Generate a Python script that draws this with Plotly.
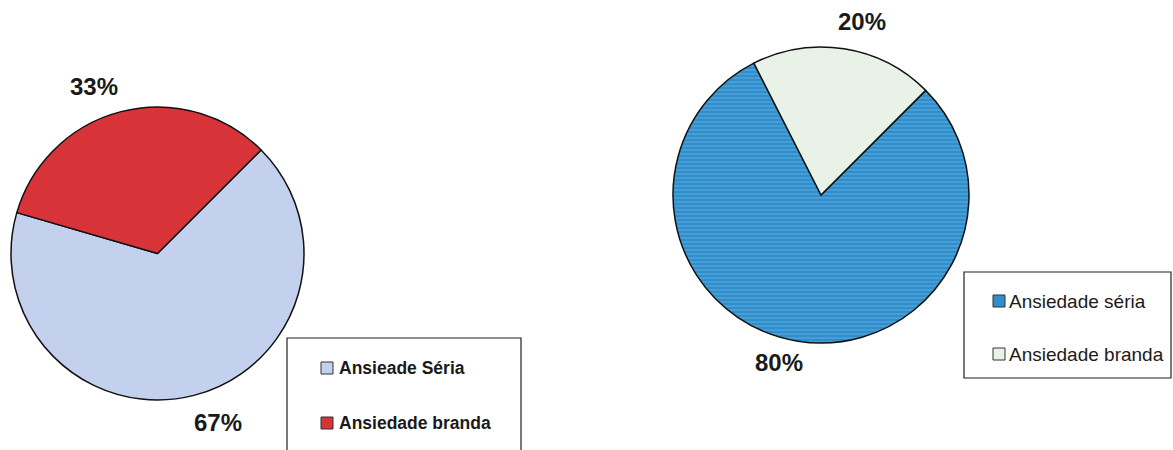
import plotly.graph_objects as go

# Data
left_labels = ["Ansieade Séria", "Ansiedade branda"]
left_values = [67, 33]
left_colors = ["#c4d1ee", "#d9333a"]

right_labels = ["Ansiedade séria", "Ansiedade branda"]
right_values = [80, 20]
right_colors = ["#2f8fcc", "#e8f2e6"]

W, H = 1173, 450


def px(x):
    return x / W


def py(y):
    return 1 - y / H


fig = go.Figure()

fig.add_trace(go.Pie(
    labels=left_labels, values=left_values, sort=False, direction="clockwise",
    rotation=45, textinfo="none", hoverinfo="label+percent",
    marker=dict(colors=left_colors, line=dict(color="#111111", width=1.5)),
    domain=dict(x=[px(11), px(304)], y=[py(400), py(107)]),
    showlegend=False,
))

fig.add_trace(go.Pie(
    labels=right_labels, values=right_values, sort=False, direction="clockwise",
    rotation=45, textinfo="none", hoverinfo="label+percent",
    marker=dict(colors=right_colors, line=dict(color="#111111", width=1.5),
                pattern=dict(shape=["-", ""], bgcolor=right_colors,
                             fgcolor=["#6fb2e2", right_colors[1]],
                             size=4, solidity=0.2)),
    domain=dict(x=[px(673), px(969)], y=[py(343), py(47)]),
    showlegend=False,
))


def pct(values, i):
    return f"{round(100 * values[i] / sum(values))}%"


pct_font = dict(family="Liberation Sans, Arial, sans-serif", size=24, color="#1a1a1a")
annotations = [
    dict(x=px(94), y=py(86), text=f"<b>{pct(left_values, 1)}</b>"),
    dict(x=px(218), y=py(422), text=f"<b>{pct(left_values, 0)}</b>"),
    dict(x=px(862), y=py(22), text=f"<b>{pct(right_values, 1)}</b>"),
    dict(x=px(779), y=py(362), text=f"<b>{pct(right_values, 0)}</b>"),
]
for a in annotations:
    a.update(xref="paper", yref="paper", showarrow=False, font=pct_font,
             xanchor="center", yanchor="middle")

shapes = []

# Left legend box
shapes.append(dict(type="rect", xref="paper", yref="paper",
                   x0=px(287), x1=px(521), y0=py(460), y1=py(338),
                   line=dict(color="#222222", width=1.2), fillcolor="white"))
left_rows = [368, 423]
for i, (lab, col) in enumerate(zip(left_labels, left_colors)):
    yc = left_rows[i]
    shapes.append(dict(type="rect", xref="paper", yref="paper",
                       x0=px(321), x1=px(333), y0=py(yc + 6), y1=py(yc - 6),
                       line=dict(color="#333333", width=1), fillcolor=col))
    annotations.append(dict(x=px(337), y=py(yc), xref="paper", yref="paper",
                            text=f"<b>{lab}</b>", showarrow=False,
                            xanchor="left", yanchor="middle",
                            font=dict(family="Liberation Sans, Arial, sans-serif",
                                      size=17.5, color="#1a1a1a")))

# Right legend box
shapes.append(dict(type="rect", xref="paper", yref="paper",
                   x0=px(964), x1=px(1171), y0=py(378), y1=py(272),
                   line=dict(color="#222222", width=1.2), fillcolor="white"))
right_rows = [301, 354]
for i, (lab, col) in enumerate(zip(right_labels, right_colors)):
    yc = right_rows[i]
    shapes.append(dict(type="rect", xref="paper", yref="paper",
                       x0=px(993), x1=px(1005), y0=py(yc + 6), y1=py(yc - 6),
                       line=dict(color="#333333", width=1), fillcolor=col))
    annotations.append(dict(x=px(1007), y=py(yc), xref="paper", yref="paper",
                            text=lab, showarrow=False,
                            xanchor="left", yanchor="middle",
                            font=dict(family="Liberation Sans, Arial, sans-serif",
                                      size=19, color="#1a1a1a")))

fig.update_layout(
    width=W, height=H,
    margin=dict(l=0, r=0, t=0, b=0),
    paper_bgcolor="white", plot_bgcolor="white",
    annotations=annotations, shapes=shapes,
    showlegend=False,
)

fig.write_html("out.html")
